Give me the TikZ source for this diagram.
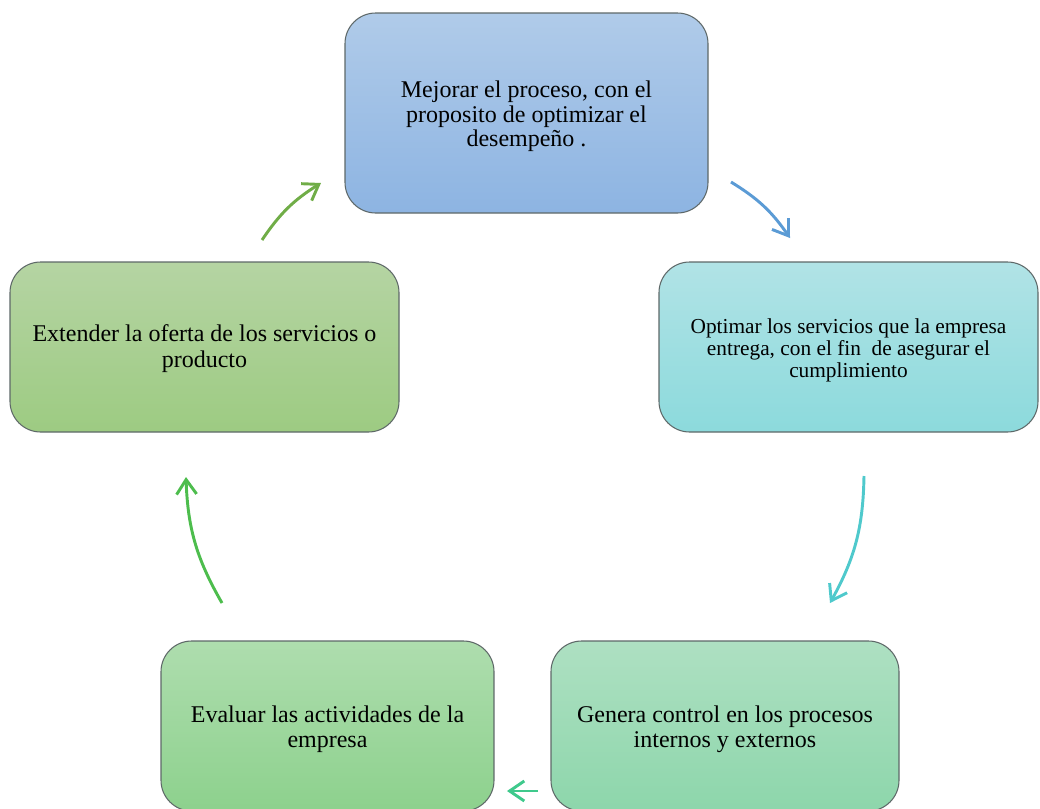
\documentclass[tikz,border=0pt]{standalone}
\usepackage{fontspec}
\setmainfont{Liberation Serif}
\usetikzlibrary{arrows.meta}

\definecolor{edge}{HTML}{5E6868}
\definecolor{blueTop}{HTML}{B0CBE9}\definecolor{blueBot}{HTML}{8DB4E2}
\definecolor{cyanTop}{HTML}{B1E3E6}\definecolor{cyanBot}{HTML}{8CDADC}
\definecolor{oliveTop}{HTML}{B5D4A3}\definecolor{oliveBot}{HTML}{9DCB82}
\definecolor{greenTop}{HTML}{AEDDAE}\definecolor{greenBot}{HTML}{8DD18D}
\definecolor{mintTop}{HTML}{AEE0C2}\definecolor{mintBot}{HTML}{8DD6AB}
\definecolor{arBlue}{HTML}{5B9BD5}
\definecolor{arCyan}{HTML}{4FC9CC}
\definecolor{arMint}{HTML}{3FC98C}
\definecolor{arGreen}{HTML}{4DBD4D}
\definecolor{arOlive}{HTML}{70AD47}

\tikzset{
  stagebox/.style={draw=edge, line width=0.8pt, rounded corners=23pt,
    align=center, inner sep=0pt, text=black},
  flow/.style={line width=2.2pt, -{Straight Barb[length=11pt,width=15pt]}}
}

\begin{document}
\begin{tikzpicture}[x=0.75pt,y=-0.75pt]
  \useasboundingbox (0,0) rectangle (1040,808);

  % process stages (text set slightly low, as in Word's vertical centring)
  \node[stagebox, top color=blueTop, bottom color=blueBot,
        minimum width=272.25pt, minimum height=150pt] (mejorar) at (526.5,113) {};
  \node[font=\fontsize{18}{18.4}\selectfont, align=center]
    at ([yshift=-2.5pt]mejorar.center)
    {Mejorar el proceso, con el\\proposito de optimizar el\\desempeño .};

  \node[stagebox, top color=cyanTop, bottom color=cyanBot,
        minimum width=284.25pt, minimum height=127.5pt] (optimar) at (848.5,347) {};
  \node[font=\fontsize{16}{16.5}\selectfont, align=center]
    at ([yshift=-2.2pt]optimar.center)
    {Optimar los servicios que la empresa\\entrega, con el fin\ \ de asegurar el\\cumplimiento};

  \node[stagebox, top color=mintTop, bottom color=mintBot,
        minimum width=261pt, minimum height=127.5pt] (genera) at (725,726) {};
  \node[font=\fontsize{18}{18.8}\selectfont, align=center]
    at ([yshift=-2.2pt]genera.center)
    {Genera control en los procesos\\internos y externos};

  \node[stagebox, top color=greenTop, bottom color=greenBot,
        minimum width=249.75pt, minimum height=127.5pt] (evaluar) at (327.5,726) {};
  \node[font=\fontsize{18}{18.8}\selectfont, align=center]
    at ([yshift=-2.2pt]evaluar.center)
    {Evaluar las actividades de la\\empresa};

  \node[stagebox, top color=oliveTop, bottom color=oliveBot,
        minimum width=291.75pt, minimum height=127.5pt] (extender) at (204.5,347) {};
  \node[font=\fontsize{18}{19.5}\selectfont, align=center]
    at ([yshift=-1.5pt]extender.center)
    {Extender la oferta de los servicios o\\producto};

  % arrow end points between the stages
  \coordinate (a1s) at (731,182);  \coordinate (a1e) at (790,238);
  \coordinate (a2s) at (864,476);  \coordinate (a2e) at (830,603);
  \coordinate (a3s) at (538,791);  \coordinate (a3e) at (507,791);
  \coordinate (a4s) at (222,603);  \coordinate (a4e) at (186,477);
  \coordinate (a5s) at (262,240);  \coordinate (a5e) at (321,183);

  % cycle arrows
  \draw[flow, arBlue]  (a1s) to[bend left=12] (a1e);
  \draw[flow, arCyan]  (a2s) to[bend left=14] (a2e);
  \draw[flow, arMint]  (a3s) -- (a3e);
  \draw[flow, arGreen] (a4s) to[bend left=14] (a4e);
  \draw[flow, arOlive] (a5s) to[bend left=12] (a5e);
\end{tikzpicture}
\end{document}
